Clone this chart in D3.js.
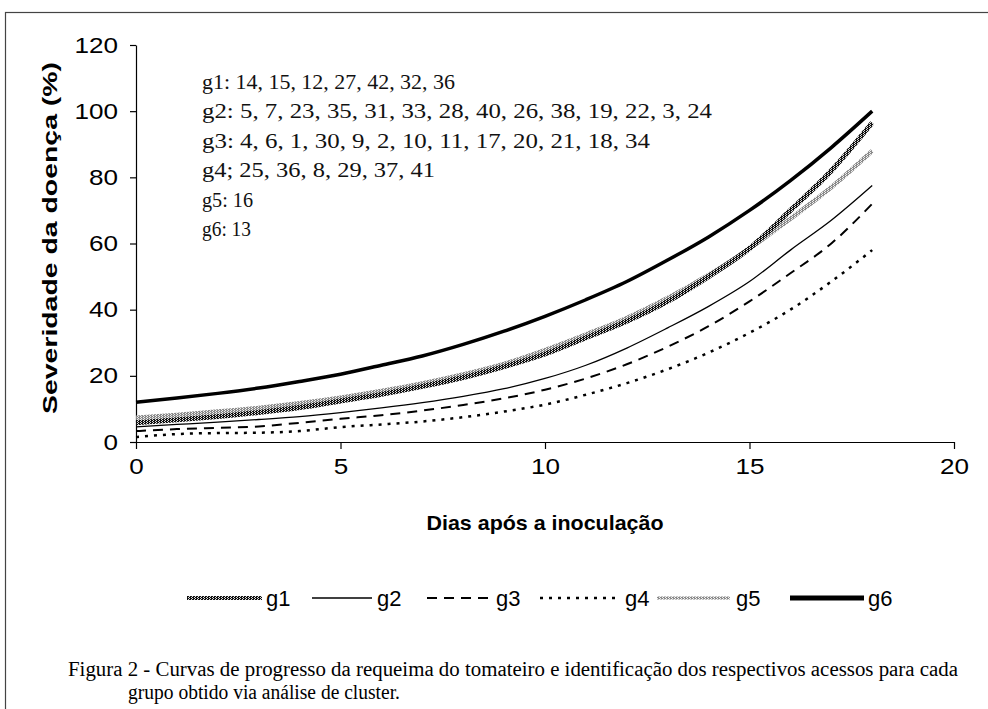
<!DOCTYPE html>
<html><head><meta charset="utf-8">
<script src="https://cdn.jsdelivr.net/npm/d3@7"></script>
<style>body{margin:0;background:#fff}svg{display:block}</style>
</head><body>
<script>
const days = [0,1,2,3,4,5,6,7,8,9,10,11,12,13,14,15,16,17,18];
const g1 = [5.8,6.7,7.7,8.9,10.4,12.4,14.4,16.8,19.5,22.8,26.6,31.5,36.5,42.5,50,58.5,70,82,96.5];
const g2 = [4.6,5.3,6,6.8,7.7,8.9,10.3,11.9,13.8,16.1,19.2,23.2,28.4,34.5,41,48.5,58,67,77.5];
const g3 = [3.3,3.9,4.3,4.7,5.8,7,8.1,9.5,11.2,13.2,15.8,19.2,23.5,28.8,35,42.5,51,60,72];
const g4 = [1.5,2.4,2.7,2.8,3.3,4.5,5.3,6.2,7.5,9.2,11.3,14.3,17.8,22,27,33,40,48.5,58];
const g5 = [7.3,8.2,9.2,10.3,11.7,13.4,15.4,17.7,20.4,23.6,27.8,32.5,37.5,43.5,50.5,58.5,67.5,77,88];
const g6 = [12,13.3,14.7,16.3,18.3,20.5,23.2,26,29.5,33.5,38,43,48.5,55,62,70,79,89,100];
const seriesNames = ["g1","g2","g3","g4","g5","g6"];
const xTicks = [0,5,10,15,20];
const yTicks = [0,20,40,60,80,100,120];
const groupNotes = [
  "g1: 14, 15, 12, 27, 42, 32, 36",
  "g2: 5, 7, 23, 35, 31, 33, 28, 40, 26, 38, 19, 22, 3, 24",
  "g3: 4, 6, 1, 30, 9, 2, 10, 11, 17, 20, 21, 18, 34",
  "g4; 25, 36, 8, 29, 37, 41",
  "g5: 16",
  "g6: 13"
];
const yTitle = "Severidade da doença (%)";
const xTitle = "Dias após a inoculação";
const caption1 = "Figura 2 - Curvas de progresso da requeima do tomateiro e identificação dos respectivos acessos para cada";
const caption2 = "grupo obtido via análise de cluster.";

const values = {g1,g2,g3,g4,g5,g6};
const W = 988, H = 709;
const SANS = "'Liberation Sans', Arial, sans-serif";
const SERIF = "'Liberation Serif', 'Times New Roman', serif";
const svg = d3.select("body").append("svg").attr("width", W).attr("height", H);

// patterns
const defs = svg.append("defs");
function checker(id, color, bg) {
  const p = defs.append("pattern").attr("id", id).attr("patternUnits","userSpaceOnUse")
    .attr("width", 3).attr("height", 2);
  p.append("rect").attr("width",3).attr("height",2).attr("fill",color);
  p.append("rect").attr("x",0).attr("y",0).attr("width",1).attr("height",1).attr("fill",bg);
  p.append("rect").attr("x",2).attr("y",1).attr("width",1).attr("height",1).attr("fill",bg);
}
checker("chk1", "#111", "#ddd");
checker("chk5", "#8a8a8a", "#eee");

// frame
svg.append("rect").attr("x",5.5).attr("y",12.5).attr("width",1000).attr("height",720)
  .attr("fill","none").attr("stroke","#444").attr("stroke-width",1.2);

const x = d3.scaleLinear().domain([0,20]).range([136,954]);
const y = d3.scaleLinear().domain([0,120]).range([442,45]);

const xAxis = svg.append("g").attr("transform","translate(0,442)")
  .call(d3.axisBottom(x).tickValues(xTicks).tickSize(7).tickPadding(9).tickSizeOuter(0));
const yAxis = svg.append("g").attr("transform","translate(136,0)")
  .call(d3.axisLeft(y).tickValues(yTicks).tickSize(6).tickPadding(12).tickSizeOuter(0));
[xAxis,yAxis].forEach(a=>{
  a.select(".domain").attr("stroke","#000").attr("stroke-width",1.2);
  a.selectAll(".tick line").attr("stroke","#000").attr("stroke-width",1.2);
  a.selectAll(".tick text").attr("font-family",SANS)
   .attr("font-size",22).attr("fill","#000")
   .attr("textLength", function(){ return this.textContent.length * 14.5; })
   .attr("lengthAdjust","spacingAndGlyphs");
});

// titles
svg.append("text").attr("transform","translate(57,238) rotate(-90)")
  .attr("text-anchor","middle").attr("font-family",SANS)
  .attr("font-weight","bold").attr("font-size",21)
  .attr("textLength",352).attr("lengthAdjust","spacingAndGlyphs").text(yTitle);
svg.append("text").attr("x",545).attr("y",530).attr("text-anchor","middle")
  .attr("font-family",SANS)
  .attr("font-weight","bold").attr("font-size",21)
  .attr("textLength",237).attr("lengthAdjust","spacingAndGlyphs").text(xTitle);

// annotations
const noteLens = [253,510,448,233,51,49];
groupNotes.forEach((t,i)=>{
  svg.append("text").attr("x",202).attr("y",89+i*29.4)
    .attr("font-family",SERIF).attr("font-size",22)
    .attr("textLength", noteLens[i]).attr("lengthAdjust","spacingAndGlyphs")
    .attr("fill","#111").text(t);
});

const styles = {
  g1: {stroke:"url(#chk1)", width:5, dash:null},
  g2: {stroke:"#000", width:1.3, dash:null},
  g3: {stroke:"#000", width:2, dash:"10,7"},
  g4: {stroke:"#000", width:2.5, dash:"3,6"},
  g5: {stroke:"url(#chk5)", width:4.5, dash:null},
  g6: {stroke:"#000", width:3.5, dash:null}
};

const line = d3.line().x((d,i)=>x(days[i])).y(d=>y(d)).curve(d3.curveMonotoneX);
["g4","g3","g2","g5","g1","g6"].forEach(n=>{
  const s = styles[n];
  svg.append("path").datum(values[n]).attr("d", line)
    .attr("fill","none").attr("stroke", s.stroke).attr("stroke-width", s.width)
    .attr("stroke-dasharray", s.dash);
});

// legend
const legendY = 598;
const legendItems = [
  {n:"g1", x0:187, x1:262, tx:266},
  {n:"g2", x0:312, x1:372, tx:377},
  {n:"g3", x0:427, x1:491, tx:496},
  {n:"g4", x0:540, x1:617, tx:625},
  {n:"g5", x0:657, x1:730, tx:736},
  {n:"g6", x0:790, x1:864, tx:868}
];
legendItems.forEach(it=>{
  const s = styles[it.n];
  svg.append("line").attr("x1",it.x0).attr("x2",it.x1).attr("y1",legendY).attr("y2",legendY)
    .attr("stroke", s.stroke).attr("stroke-width", it.n==="g6"?5:(it.n==="g1"?4:(it.n==="g5"?3:s.width)))
    .attr("stroke-dasharray", s.dash);
  svg.append("text").attr("x",it.tx).attr("y",legendY+8)
    .attr("font-family",SANS).attr("font-size",22)
    .text(it.n);
});

// caption
svg.append("text").attr("x",68).attr("y",676)
  .attr("font-family",SERIF).attr("font-size",20)
  .attr("textLength",890).attr("lengthAdjust","spacingAndGlyphs").text(caption1);
svg.append("text").attr("x",128).attr("y",699)
  .attr("font-family",SERIF).attr("font-size",20)
  .attr("textLength",272).attr("lengthAdjust","spacingAndGlyphs").text(caption2);
</script>
</body></html>
